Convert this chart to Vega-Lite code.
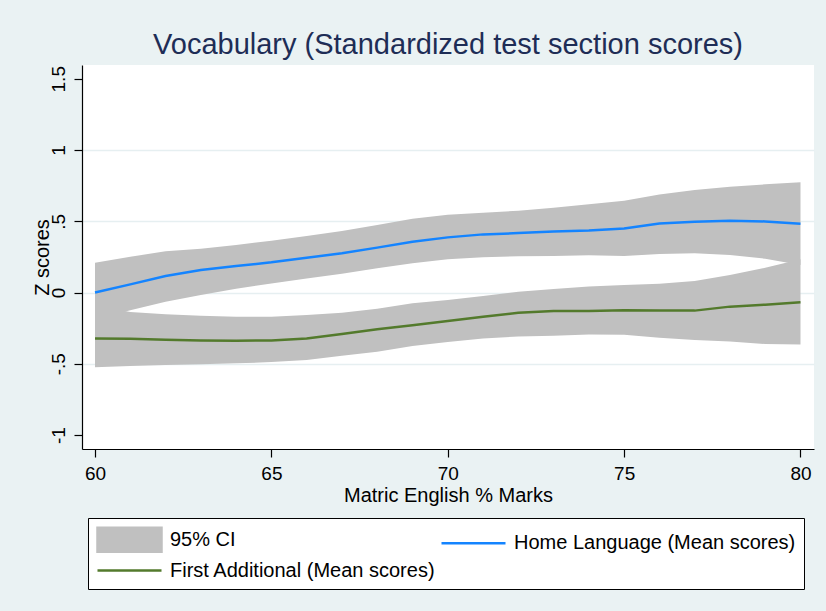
{
  "$schema": "https://vega.github.io/schema/vega-lite/v6.json",
  "width": 732,
  "height": 384,
  "autosize": {"type": "none"},
  "padding": {"left": 82, "top": 65, "right": 12, "bottom": 162},
  "background": "#EAF2F3",
  "title": {
    "text": "Vocabulary (Standardized test section scores)",
    "font": "Liberation Sans Narrow, Liberation Sans, sans-serif",
    "fontSize": 29,
    "fontWeight": "normal",
    "color": "#1E2D56",
    "anchor": "middle",
    "frame": "group",
    "baseline": "alphabetic",
    "offset": -18
  },
  "config": {
    "view": {"fill": "white", "stroke": null},
    "font": "Liberation Sans Narrow, Liberation Sans, sans-serif"
  },
  "data": {
    "values": [
      {"x": 60, "hl": 0.000, "hl_lo": -0.190, "hl_hi": 0.209, "fa": -0.322, "fa_lo": -0.525, "fa_hi": -0.090},
      {"x": 61, "hl": 0.057, "hl_lo": -0.125, "hl_hi": 0.251, "fa": -0.324, "fa_lo": -0.516, "fa_hi": -0.137},
      {"x": 62, "hl": 0.116, "hl_lo": -0.064, "hl_hi": 0.289, "fa": -0.331, "fa_lo": -0.509, "fa_hi": -0.153},
      {"x": 63, "hl": 0.158, "hl_lo": -0.018, "hl_hi": 0.307, "fa": -0.336, "fa_lo": -0.504, "fa_hi": -0.163},
      {"x": 64, "hl": 0.186, "hl_lo": 0.027, "hl_hi": 0.333, "fa": -0.338, "fa_lo": -0.497, "fa_hi": -0.170},
      {"x": 65, "hl": 0.212, "hl_lo": 0.064, "hl_hi": 0.364, "fa": -0.336, "fa_lo": -0.488, "fa_hi": -0.170},
      {"x": 66, "hl": 0.244, "hl_lo": 0.099, "hl_hi": 0.396, "fa": -0.322, "fa_lo": -0.474, "fa_hi": -0.158},
      {"x": 67, "hl": 0.275, "hl_lo": 0.132, "hl_hi": 0.431, "fa": -0.291, "fa_lo": -0.443, "fa_hi": -0.142},
      {"x": 68, "hl": 0.315, "hl_lo": 0.170, "hl_hi": 0.474, "fa": -0.258, "fa_lo": -0.415, "fa_hi": -0.113},
      {"x": 69, "hl": 0.357, "hl_lo": 0.205, "hl_hi": 0.518, "fa": -0.230, "fa_lo": -0.375, "fa_hi": -0.076},
      {"x": 70, "hl": 0.387, "hl_lo": 0.233, "hl_hi": 0.546, "fa": -0.200, "fa_lo": -0.347, "fa_hi": -0.053},
      {"x": 71, "hl": 0.408, "hl_lo": 0.247, "hl_hi": 0.560, "fa": -0.170, "fa_lo": -0.322, "fa_hi": -0.025},
      {"x": 72, "hl": 0.417, "hl_lo": 0.254, "hl_hi": 0.574, "fa": -0.142, "fa_lo": -0.308, "fa_hi": 0.006},
      {"x": 73, "hl": 0.429, "hl_lo": 0.256, "hl_hi": 0.595, "fa": -0.130, "fa_lo": -0.303, "fa_hi": 0.025},
      {"x": 74, "hl": 0.436, "hl_lo": 0.261, "hl_hi": 0.619, "fa": -0.130, "fa_lo": -0.294, "fa_hi": 0.043},
      {"x": 75, "hl": 0.450, "hl_lo": 0.256, "hl_hi": 0.644, "fa": -0.125, "fa_lo": -0.296, "fa_hi": 0.053},
      {"x": 76, "hl": 0.485, "hl_lo": 0.270, "hl_hi": 0.687, "fa": -0.127, "fa_lo": -0.317, "fa_hi": 0.062},
      {"x": 77, "hl": 0.497, "hl_lo": 0.275, "hl_hi": 0.719, "fa": -0.127, "fa_lo": -0.333, "fa_hi": 0.080},
      {"x": 78, "hl": 0.504, "hl_lo": 0.263, "hl_hi": 0.743, "fa": -0.099, "fa_lo": -0.343, "fa_hi": 0.123},
      {"x": 79, "hl": 0.499, "hl_lo": 0.237, "hl_hi": 0.759, "fa": -0.085, "fa_lo": -0.361, "fa_hi": 0.174},
      {"x": 80, "hl": 0.483, "hl_lo": 0.193, "hl_hi": 0.773, "fa": -0.069, "fa_lo": -0.364, "fa_hi": 0.233}
    ]
  },
  "encoding": {
    "x": {
      "field": "x",
      "type": "quantitative",
      "title": "Matric English % Marks",
      "scale": {"domain": [59.631, 80.383], "nice": false, "zero": false},
      "axis": {
        "values": [60, 65, 70, 75, 80],
        "grid": false,
        "domainColor": "#000000",
        "domainWidth": 1.2,
        "tickColor": "#000000",
        "tickSize": 8,
        "tickWidth": 1.2,
        "labelFontSize": 19,
        "labelColor": "#000000",
        "labelPadding": 7,
        "labelBaseline": "top",
        "labelFlush": false,
        "titleFontSize": 20,
        "titleFontWeight": "normal",
        "titleColor": "#000000",
        "titleBaseline": "alphabetic",
        "titleY": 52
      }
    }
  },
  "layer": [
    {
      "mark": {"type": "area", "opacity": 1},
      "encoding": {
        "y": {
          "field": "hl_lo",
          "type": "quantitative",
          "title": "Z scores",
          "scale": {"domain": [-1.098, 1.5965], "nice": false, "zero": false},
          "axis": {
            "values": [-1, -0.5, 0, 0.5, 1, 1.5],
            "labelExpr": "datum.value == 1.5 ? '1.5' : datum.value == 1 ? '1' : datum.value == 0.5 ? '.5' : datum.value == 0 ? '0' : datum.value == -0.5 ? '-.5' : '-1'",
            "grid": true,
            "gridColor": "#E6EFF1",
            "gridWidth": 1.5,
            "gridOpacity": {"condition": {"test": "datum.value == 1.5 || datum.value == -1", "value": 0}, "value": 1},
            "domainColor": "#000000",
            "domainWidth": 1.2,
            "tickColor": "#000000",
            "tickSize": 8,
            "tickWidth": 1.2,
            "labelAngle": -90,
            "labelAlign": "center",
            "labelBaseline": "bottom",
            "labelPadding": 6,
            "labelFontSize": 19,
            "labelColor": "#000000",
            "labelFlush": false,
            "titleFontSize": 20,
            "titleFontWeight": "normal",
            "titleColor": "#000000",
            "titleAngle": -90,
            "titleBaseline": "alphabetic",
            "titleAlign": "center",
            "titleX": -34,
            "titleY": 192
          }
        },
        "y2": {"field": "hl_hi"},
        "color": {
          "datum": "95% CI",
          "type": "nominal",
          "scale": {
            "domain": ["95% CI", "Home Language (Mean scores)", "First Additional (Mean scores)"],
            "range": ["#C0C0C0", "#1484FF", "#537A2C"]
          },
          "legend": {
            "orient": "none",
            "direction": "horizontal",
            "legendX": 6,
            "legendY": 453,
            "title": null,
            "columns": 2,
            "columnPadding": 0,
            "rowPadding": -1,
            "padding": 8,
            "strokeColor": "#000000",
            "fillColor": "#FFFFFF",
            "labelFontSize": 20,
            "labelColor": "#000000",
            "labelLimit": 500,
            "labelOffset": 27,
            "symbolOffset": 20,
            "symbolSize": 576,
            "symbolStrokeWidth": 2.5,
            "symbolOpacity": 1,
            "symbolType": {"expr": "datum.value === '95% CI' ? 'M-2.667,-1H2.667V1H-2.667Z' : 'M-2.667,0H2.667'"},
            "symbolFillColor": {"expr": "datum.value === '95% CI' ? '#C0C0C0' : 'transparent'"},
            "symbolStrokeColor": {"expr": "scale('color', datum.value)"}
          }
        }
      }
    },
    {
      "mark": {"type": "area", "opacity": 1},
      "encoding": {
        "y": {"field": "fa_lo", "type": "quantitative", "title": "Z scores"},
        "y2": {"field": "fa_hi"},
        "color": {"datum": "95% CI", "type": "nominal"}
      }
    },
    {
      "mark": {"type": "line", "strokeWidth": 2.5},
      "encoding": {
        "y": {"field": "hl", "type": "quantitative", "title": "Z scores"},
        "color": {"datum": "Home Language (Mean scores)", "type": "nominal"}
      }
    },
    {
      "mark": {"type": "line", "strokeWidth": 2.5},
      "encoding": {
        "y": {"field": "fa", "type": "quantitative", "title": "Z scores"},
        "color": {"datum": "First Additional (Mean scores)", "type": "nominal"}
      }
    }
  ]
}
